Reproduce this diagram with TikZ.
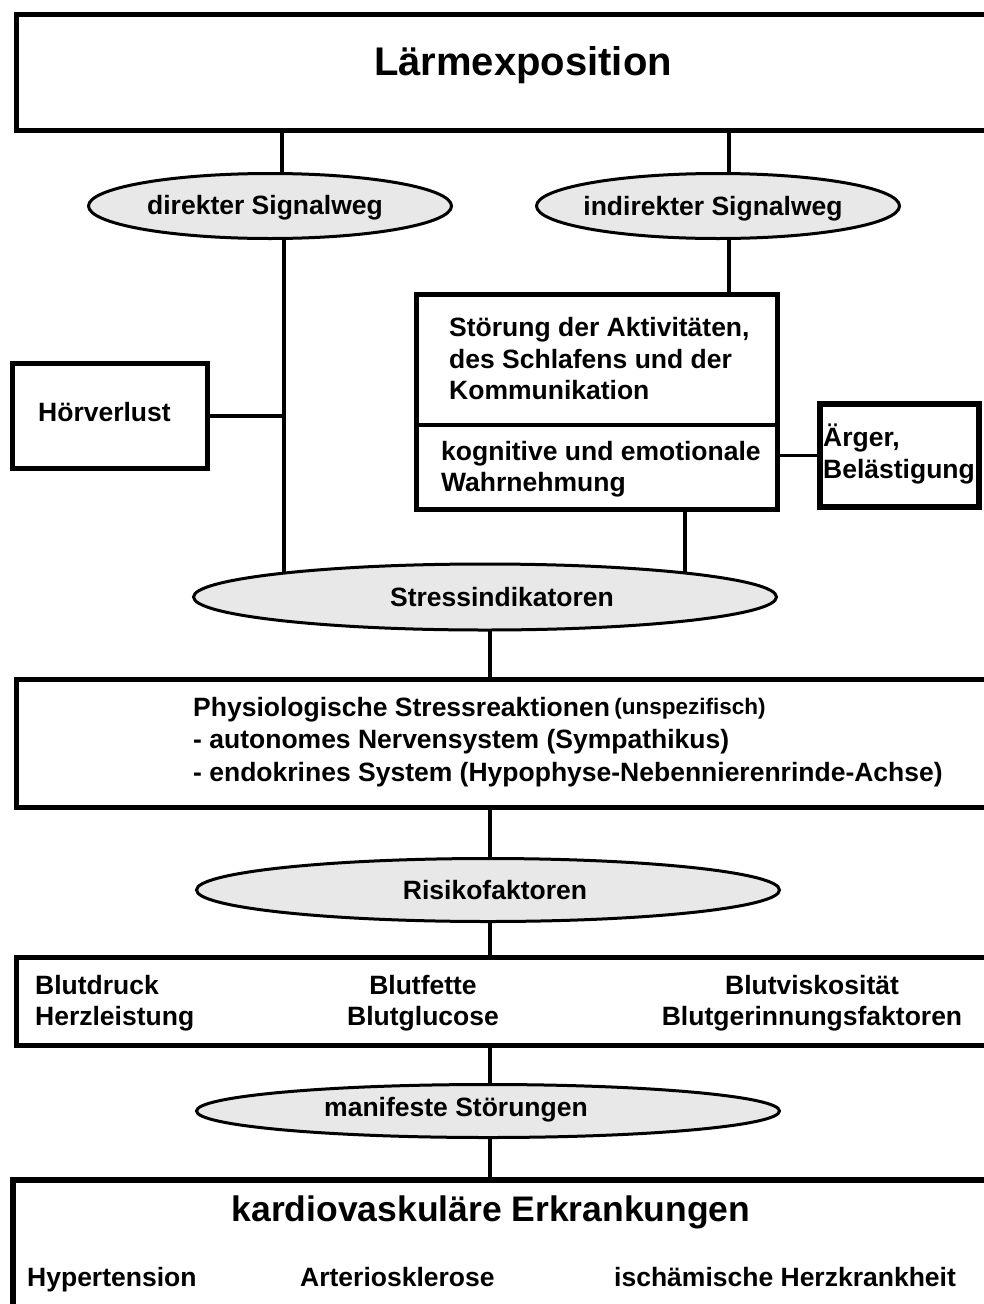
\documentclass[tikz,border=0pt]{standalone}
\usepackage{fontspec}
\setmainfont{Liberation Sans}
\usetikzlibrary{shapes.geometric,backgrounds}
\begin{document}
\begin{tikzpicture}[x=1pt,y=-1pt,
  box/.style={draw, line width=5pt, fill=white, rectangle, inner sep=0pt, anchor=north west},
  oval/.style={ellipse, draw, line width=3pt, fill=gray!18, inner sep=0pt},
  conn/.style={line width=3.5pt},
  txt/.style={inner sep=0pt, align=left, font=\bfseries\fontsize{26.5}{31.5}\selectfont},
  ctxt/.style={inner sep=0pt, align=center, font=\bfseries\fontsize{26.5}{31.5}\selectfont}]
\useasboundingbox (0,0) rectangle (984,1304);

% boxes (anchor = outer north-west corner)
\node[box, minimum width=985pt, minimum height=116pt] (top) at (14,12) {};
\node[box, minimum width=195pt, minimum height=105pt] (hoer) at (10,361) {};
\node[box, minimum width=361pt, minimum height=215pt] (stor) at (414,292) {};
\node[box, line width=6pt, minimum width=159pt, minimum height=103pt] (aerg) at (817,401) {};
\node[box, minimum width=985pt, minimum height=128pt] (phys) at (14,677) {};
\node[box, minimum width=985pt, minimum height=88pt] (blut) at (14,955) {};
\node[box, line width=6pt, minimum width=985pt, minimum height=140pt] (kard) at (10,1177) {};

% ellipses
\node[oval, minimum width=363pt, minimum height=65pt] (dir) at (270,206) {};
\node[oval, minimum width=363pt, minimum height=65pt] (ind) at (718,206) {};
\node[oval, minimum width=583pt, minimum height=66pt] (stress) at (485,597) {};
\node[oval, minimum width=583pt, minimum height=63pt] (risk) at (488,890) {};
\node[oval, minimum width=583pt, minimum height=53pt] (mani) at (488,1111) {};

% helper coordinates for connector x positions
\coordinate (xa) at (282,0);
\coordinate (xb) at (729,0);
\coordinate (xc) at (284,0);
\coordinate (xd) at (685,0);
\coordinate (xe) at (490,0);

\begin{pgfonlayer}{background}
\draw[conn] (top.south -| xa) -- (dir.center -| xa);
\draw[conn] (top.south -| xb) -- (ind.center -| xb);
\draw[conn] (dir.center -| xc) -- (stress.center -| xc);
\draw[conn] (hoer.east) -- (hoer.east -| xc);
\draw[conn] (ind.center -| xb) -- (stor.north -| xb);
\draw[conn] (stor.south -| xd) -- (stress.center -| xd);
\draw[conn] (aerg.west) -- (aerg.west -| stor.east);
\draw[conn] (stress.center -| xe) -- (phys.north -| xe);
\draw[conn] (phys.south -| xe) -- (risk.center -| xe);
\draw[conn] (risk.center -| xe) -- (blut.north -| xe);
\draw[conn] (blut.south -| xe) -- (mani.center -| xe);
\draw[conn] (mani.center -| xe) -- (kard.north -| xe);
\end{pgfonlayer}

% divider inside Störung box
\draw[line width=4pt] (stor.west |- 0,425) -- (stor.east |- 0,425);

% texts
\node[ctxt, font=\bfseries\fontsize{40}{45}\selectfont] (tLaerm) at (523,65) {Lärmexposition};
\node[ctxt] (tdir) at (265,208) {direkter Signalweg};
\node[ctxt] (tind) at (713,209) {indirekter Signalweg};
\node[txt, anchor=west] (thoer) at (38,412) {Hörverlust};
\node[txt, anchor=west] (tstor1) at (449,359) {Störung der Aktivitäten,\\des Schlafens und der\\Kommunikation};
\node[txt, anchor=west] (tstor2) at (441,469) {kognitive und emotionale\\Wahrnehmung};
\node[txt, anchor=west] (taerg) at (823,454) {Ärger,\\Belästigung};
\node[ctxt] (tstress) at (502,597) {Stressindikatoren};
\node[txt, anchor=west, font=\bfseries\fontsize{26.5}{32.5}\selectfont] (tphys) at (193,742) {Physiologische Stressreaktionen\,{\fontsize{22.5}{26}\selectfont\raisebox{2pt}{(unspezifisch)}}\\- autonomes Nervensystem (Sympathikus)\\- endokrines System (Hypophyse-Nebennierenrinde-Achse)};
\node[ctxt] (trisk) at (495,890) {Risikofaktoren};
\node[txt, anchor=west] (tb1) at (35,1003) {Blutdruck\\Herzleistung};
\node[ctxt] (tb2) at (423,1003) {Blutfette\\Blutglucose};
\node[ctxt] (tb3) at (812,1003) {Blutviskosität\\Blutgerinnungsfaktoren};
\node[ctxt] (tmani) at (456,1110) {manifeste Störungen};
\node[ctxt, font=\bfseries\fontsize{35.5}{40}\selectfont] (tkard) at (491,1212) {kardiovaskuläre Erkrankungen};
\node[txt, anchor=base west] (th1) at (27,1286) {Hypertension};
\node[txt, anchor=base west] (th2) at (300,1286) {Arteriosklerose};
\node[txt, anchor=base west] (th3) at (614,1286) {ischämische Herzkrankheit};
\end{tikzpicture}
\end{document}
